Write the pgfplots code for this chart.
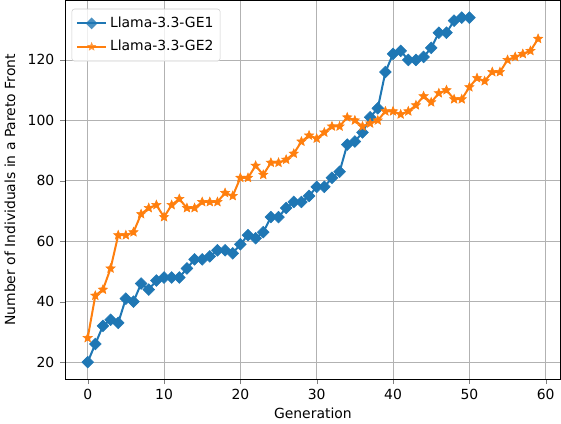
\documentclass[border=0pt]{standalone}
\usepackage{pgfplots}
\pgfplotsset{compat=1.18}
\usepackage{fontspec}
\setmainfont{DejaVu Sans}
\usetikzlibrary{plotmarks}
\definecolor{mplblue}{HTML}{1F77B4}
\definecolor{mplorange}{HTML}{FF7F0E}

% filled five-pointed star
\pgfdeclareplotmark{fstar}{%
  \pgfpathmoveto{\pgfqpointpolar{90}{\pgfplotmarksize}}%
  \pgfpathlineto{\pgfqpointpolar{126}{0.45\pgfplotmarksize}}%
  \pgfpathlineto{\pgfqpointpolar{162}{\pgfplotmarksize}}%
  \pgfpathlineto{\pgfqpointpolar{198}{0.45\pgfplotmarksize}}%
  \pgfpathlineto{\pgfqpointpolar{234}{\pgfplotmarksize}}%
  \pgfpathlineto{\pgfqpointpolar{270}{0.45\pgfplotmarksize}}%
  \pgfpathlineto{\pgfqpointpolar{306}{\pgfplotmarksize}}%
  \pgfpathlineto{\pgfqpointpolar{342}{0.45\pgfplotmarksize}}%
  \pgfpathlineto{\pgfqpointpolar{18}{\pgfplotmarksize}}%
  \pgfpathlineto{\pgfqpointpolar{54}{0.45\pgfplotmarksize}}%
  \pgfpathclose
  \pgfusepathqfillstroke}

% filled square diamond (equal width and height)
\pgfdeclareplotmark{fdiamond}{%
  \pgfpathmoveto{\pgfqpoint{0pt}{\pgfplotmarksize}}%
  \pgfpathlineto{\pgfqpoint{-\pgfplotmarksize}{0pt}}%
  \pgfpathlineto{\pgfqpoint{0pt}{-\pgfplotmarksize}}%
  \pgfpathlineto{\pgfqpoint{\pgfplotmarksize}{0pt}}%
  \pgfpathclose
  \pgfusepathqfillstroke}

\pgfplotstableread{
x y
0 20
1 26
2 32
3 34
4 33
5 41
6 40
7 46
8 44
9 47
10 48
11 48
12 48
13 51
14 54
15 54
16 55
17 57
18 57
19 56
20 59
21 62
22 61
23 63
24 68
25 68
26 71
27 73
28 73
29 75
30 78
31 78
32 81
33 83
34 92
35 93
36 96
37 101
38 104
39 116
40 122
41 123
42 120
43 120
44 121
45 124
46 129
47 129
48 133
49 134
50 134
}\geone

\pgfplotstableread{
x y
0 28
1 42
2 44
3 51
4 62
5 62
6 63
7 69
8 71
9 72
10 68
11 72
12 74
13 71
14 71
15 73
16 73
17 73
18 76
19 75
20 81
21 81
22 85
23 82
24 86
25 86
26 87
27 89
28 93
29 95
30 94
31 96
32 98
33 98
34 101
35 100
36 98
37 99
38 100
39 103
40 103
41 102
42 103
43 105
44 108
45 106
46 109
47 110
48 107
49 107
50 111
51 114
52 113
53 116
54 116
55 120
56 121
57 122
58 123
59 127
}\getwo

\begin{document}
\fontsize{10.4}{12.5}\selectfont
\begin{tikzpicture}
\begin{axis}[
  scale only axis,
  width=370pt, height=283pt,
  xmin=-2.95, xmax=61.95,
  ymin=14.3, ymax=139.7,
  xtick={0,10,...,60},
  ytick={20,40,...,120},
  tick align=outside,
  tick pos=left,
  major tick length=3.5pt,
  grid=major,
  grid style={color=black!30, line width=0.6pt},
  axis line style={line width=0.6pt},
  xlabel={Generation},
  ylabel={Number of Individuals in a Pareto Front},
  xlabel style={yshift=1pt},
  ylabel style={yshift=2pt},
  yticklabel style={xshift=-1pt},
  ticklabel style={font=\fontsize{10.4}{12.5}\selectfont},
  label style={font=\fontsize{10.4}{12.5}\selectfont},
  /pgf/number format/assume math mode=true,
  legend cell align=left,
  legend style={draw=black!20, rounded corners=2pt, fill=white, fill opacity=0.8, text opacity=1,
    font=\fontsize{10.4}{12.5}\selectfont, at={(0.013,0.978)}, anchor=north west,
    inner xsep=3pt, inner ysep=4pt, row sep=4pt},
  legend image code/.code={\draw[#1, mark=none] (0pt,0pt) -- (22pt,0pt); \draw[#1, draw opacity=0] plot coordinates {(11pt,0pt)};},
]
\addplot[color=mplblue, line width=1.5pt, mark=fdiamond, mark size=4.4pt, mark options={solid, fill=mplblue, draw=mplblue, line width=0.4pt}] table[x=x,y=y] {\geone};
\addlegendentry{Llama-3.3-GE1}
\addplot[color=mplorange, line width=1.5pt, mark=fstar, mark size=3.6pt, mark options={solid, fill=mplorange, draw=mplorange, line width=0.4pt}] table[x=x,y=y] {\getwo};
\addlegendentry{Llama-3.3-GE2}
\end{axis}
\end{tikzpicture}
\end{document}
